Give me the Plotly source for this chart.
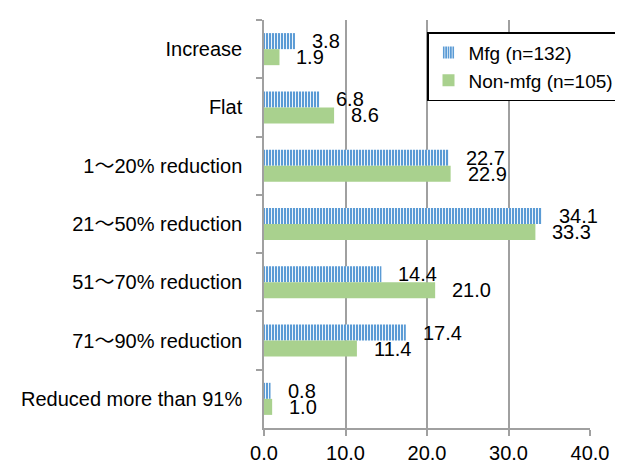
import plotly.graph_objects as go

categories = ['Increase', 'Flat', '1～20% reduction', '21～50% reduction',
              '51～70% reduction', '71～90% reduction', 'Reduced more than 91%']
mfg = [3.8, 6.8, 22.7, 34.1, 14.4, 17.4, 0.8]
non_mfg = [1.9, 8.6, 22.9, 33.3, 21.0, 11.4, 1.0]
x_ticks = [0, 10, 20, 30, 40]
x_tick_labels = ['0.0', '10.0', '20.0', '30.0', '40.0']

FONT = 'Liberation Sans, Arial, Noto Sans CJK JP'
FS = 20
BLUE = '#5b9bd5'
GREEN = '#a9d18e'
GRID = '#a0a0a0'

fig = go.Figure()
fig.add_trace(go.Bar(
    y=categories, x=mfg, orientation='h', name='Mfg (n=132)',
    marker=dict(color=BLUE, line=dict(width=0),
                pattern=dict(shape='|', fgcolor='white', bgcolor=BLUE,
                             size=3, solidity=0.3, fillmode='replace')),
))
fig.add_trace(go.Bar(
    y=categories, x=non_mfg, orientation='h', name='Non-mfg (n=105)',
    marker=dict(color=GREEN, line=dict(width=0)),
))

# value labels to the right of each bar
for cat, v in zip(categories, mfg):
    fig.add_annotation(x=v, y=cat, text=f'{v:.1f}', showarrow=False,
                       xanchor='left', xshift=15, yshift=8,
                       font=dict(family=FONT, size=FS, color='black'))
for cat, v in zip(categories, non_mfg):
    fig.add_annotation(x=v, y=cat, text=f'{v:.1f}', showarrow=False,
                       xanchor='left', xshift=15, yshift=-8,
                       font=dict(family=FONT, size=FS, color='black'))

# page body has an 8px margin, so the figure is offset by 8px
fig.update_layout(
    width=615, height=458,
    margin=dict(l=256, r=33, t=12, b=38, autoexpand=False),
    paper_bgcolor='white', plot_bgcolor='white',
    font=dict(family=FONT, size=FS, color='black'),
    barmode='group', bargap=0.45, bargroupgap=0,
    showlegend=True,
    legend=dict(
        x=0.5, y=0.97, xanchor='left', yanchor='top',
        bordercolor='black', borderwidth=1.5, bgcolor='white',
        font=dict(family=FONT, size=19), traceorder='normal',
        itemsizing='constant', tracegroupgap=0,
    ),
    xaxis=dict(
        range=[0, 40], tickvals=x_ticks, ticktext=x_tick_labels,
        showgrid=True, gridcolor=GRID, gridwidth=1.5,
        showline=True, linecolor=GRID, linewidth=1.5,
        ticks='outside', ticklen=6, tickcolor=GRID, tickwidth=1.5,
        zeroline=False,
    ),
    yaxis=dict(
        autorange='reversed', type='category',
        showline=True, linecolor=GRID, linewidth=1.5,
        ticks='outside', ticklen=6, tickcolor=GRID, tickwidth=1.5,
        tickson='boundaries', showgrid=False,
        ticklabelstandoff=16,
    ),
)

fig.write_html('out.html')
